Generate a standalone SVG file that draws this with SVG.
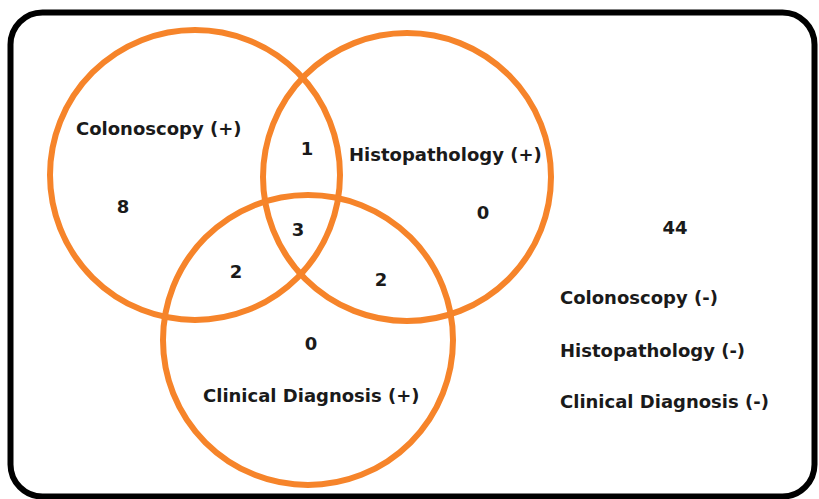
<svg xmlns="http://www.w3.org/2000/svg" width="819" height="499" viewBox="0 0 819 499">
<style>
.c{fill:none;stroke:#F6842A;stroke-width:6}
.t{font-family:"DejaVu Sans","Liberation Sans",sans-serif;font-weight:bold;font-size:18px;fill:#1a1a1a}
.n{text-anchor:middle}
</style>
<rect x="0" y="0" width="819" height="499" fill="#fff"/>
<rect x="10.5" y="12.5" width="804" height="484" rx="32" ry="32" fill="none" stroke="#000" stroke-width="6"/>
<g id="circle-colonoscopy"><circle class="c" cx="195" cy="175" r="145"/></g>
<g id="circle-histopathology"><circle class="c" cx="407" cy="177" r="144"/></g>
<g id="circle-clinical"><circle class="c" cx="308" cy="340" r="145"/></g>
<g id="labels">
<text class="t" x="76" y="135">Colonoscopy (+)</text>
<text class="t" x="349" y="161">Histopathology (+)</text>
<text class="t" x="203" y="402">Clinical Diagnosis (+)</text>
<text class="t n" x="123" y="213">8</text>
<text class="t n" x="307" y="155">1</text>
<text class="t n" x="298" y="236">3</text>
<text class="t n" x="236" y="278">2</text>
<text class="t n" x="381" y="286">2</text>
<text class="t n" x="483" y="219">0</text>
<text class="t n" x="311" y="350">0</text>
<text class="t n" x="675" y="234">44</text>
<text class="t" x="560" y="304">Colonoscopy (-)</text>
<text class="t" x="560" y="357">Histopathology (-)</text>
<text class="t" x="560" y="408">Clinical Diagnosis (-)</text>
</g>
</svg>
